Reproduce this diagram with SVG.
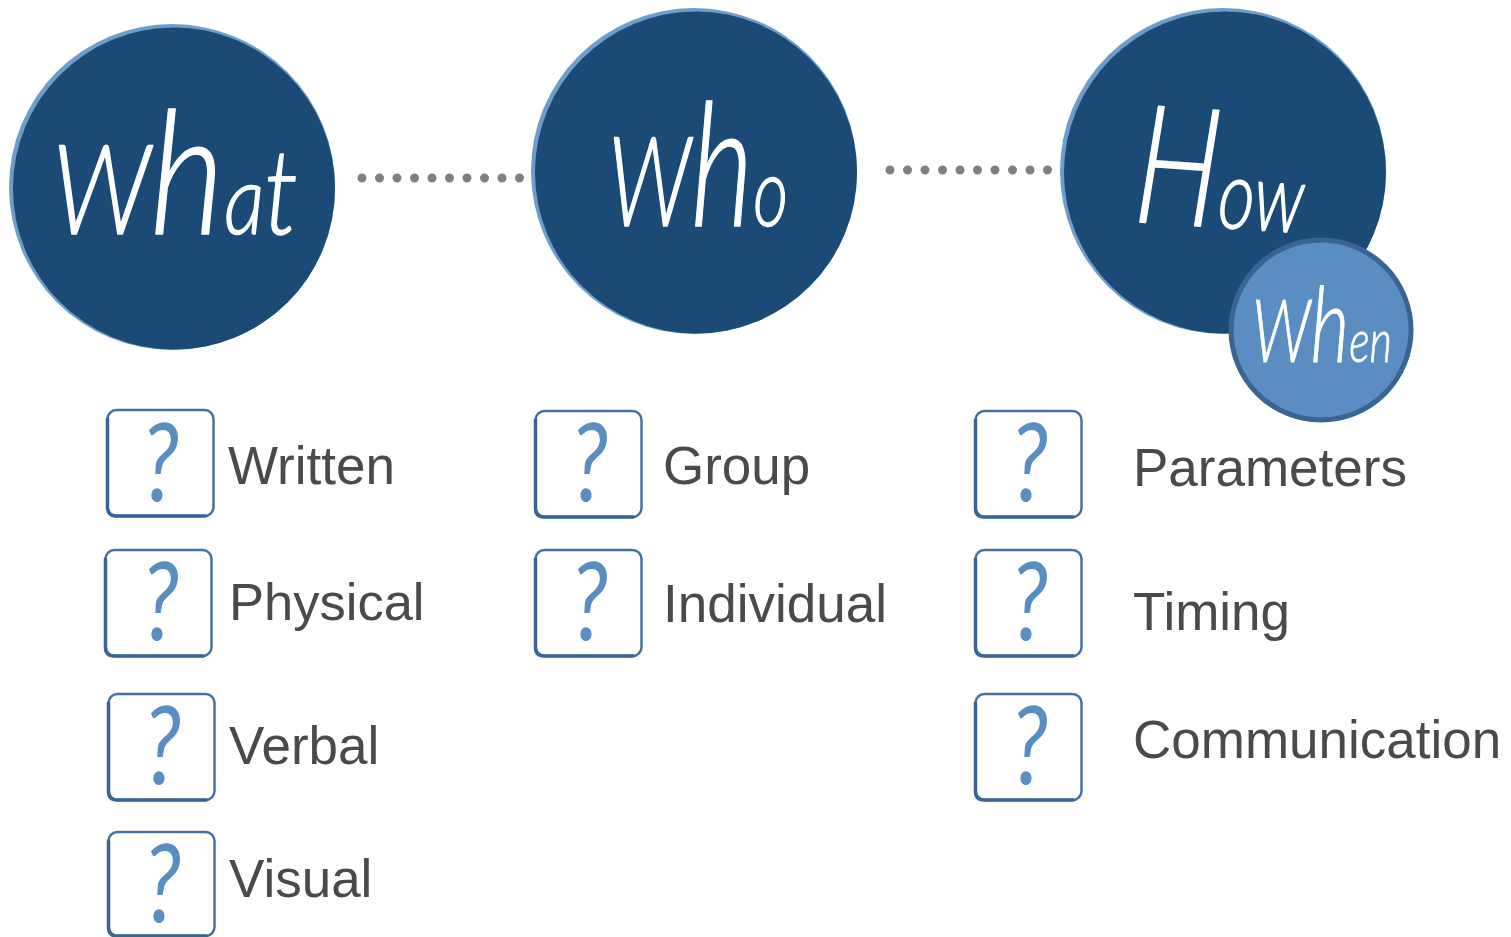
<svg xmlns="http://www.w3.org/2000/svg" width="1511" height="937" viewBox="0 0 1511 937">
<style>
.rim{fill:#6f9dca}
.big{fill:#1c4a76}
.hand{font-family:"Lato","Open Sans",sans-serif;font-weight:300;font-style:italic;fill:#fff;stroke:#fff;stroke-width:1.4;stroke-linejoin:round}
.box{fill:#fff;stroke:#44719f;stroke-width:2.500}
.brush{fill:none;stroke:#3a6592;stroke-width:3.500;stroke-linecap:round}
.q{font-family:"Lato","Liberation Sans",sans-serif;font-style:italic;font-weight:400;font-size:108px;fill:#5a8dc1}
.lbl{font-family:"Liberation Sans",Arial,sans-serif;font-size:53px;fill:#4a4a4a}
.dots{fill:none;stroke:#808080;stroke-width:9;stroke-linecap:round;stroke-dasharray:0 17.5}
</style>
<rect width="1511" height="937" fill="#fff"/>
<g id="connectors">
<line class="dots" x1="362" y1="178" x2="520" y2="178"/>
<line class="dots" x1="890" y1="170" x2="1048" y2="170"/>
</g>
<g id="node-what">
<circle class="rim" cx="172" cy="187" r="163"/>
<circle class="big" cx="174" cy="188.500" r="161"/>
<text class="hand" x="52" y="234" textLength="246" lengthAdjust="spacingAndGlyphs"><tspan font-size="125">W</tspan><tspan font-size="172">h</tspan><tspan font-size="96">a</tspan><tspan font-size="118">t</tspan></text>
</g>
<g id="node-who">
<circle class="rim" cx="694" cy="171" r="163"/>
<circle class="big" cx="696" cy="172.500" r="161"/>
<text class="hand" x="608" y="226" textLength="180" lengthAdjust="spacingAndGlyphs"><tspan font-size="125">W</tspan><tspan font-size="172">h</tspan><tspan font-size="96">o</tspan></text>
</g>
<g id="node-how">
<circle class="rim" cx="1223" cy="171" r="163"/>
<circle class="big" cx="1225" cy="172.500" r="161"/>
<text class="hand" transform="rotate(4 1140 224)" x="1132" y="222" textLength="170" lengthAdjust="spacingAndGlyphs"><tspan font-size="165">H</tspan><tspan font-size="96">o</tspan><tspan font-size="96">w</tspan></text>
</g>
<g id="node-when">
<circle cx="1321" cy="330" r="90" fill="#5a8dc1" stroke="#3a6592" stroke-width="5"/>
<text class="hand" style="stroke-width:.8" x="1252" y="362" textLength="140" lengthAdjust="spacingAndGlyphs"><tspan font-size="86">W</tspan><tspan font-size="104">h</tspan><tspan font-size="60">e</tspan><tspan font-size="60">n</tspan></text>
</g>
<g id="item-written"><rect class="box" x="107.500" y="410" width="106" height="106" rx="9"/><path class="brush" d="M107.500 419V507Q107.500 516 116 516H205"/><text class="q" transform="translate(142 501) scale(.82 1)">?</text><text class="lbl" x="228" y="484">Written</text></g>
<g id="item-physical"><rect class="box" x="105.500" y="550" width="106" height="106" rx="9"/><path class="brush" d="M105.500 559V647Q105.500 656 114 656H203"/><text class="q" transform="translate(142 640) scale(.82 1)">?</text><text class="lbl" x="229" y="620" style="font-size:52.500px">Physical</text></g>
<g id="item-verbal"><rect class="box" x="108.500" y="694" width="106" height="106" rx="9"/><path class="brush" d="M108.500 703V791Q108.500 800 117 800H206"/><text class="q" transform="translate(144 784) scale(.82 1)">?</text><text class="lbl" x="229" y="764">Verbal</text></g>
<g id="item-visual"><rect class="box" x="108.500" y="832" width="106" height="104" rx="9"/><path class="brush" d="M108.500 841V927Q108.500 936 117 936H206"/><text class="q" transform="translate(144 922) scale(.82 1)">?</text><text class="lbl" x="229" y="897">Visual</text></g>
<g id="item-group"><rect class="box" x="535.500" y="411" width="106" height="106" rx="9"/><path class="brush" d="M535.500 420V508Q535.500 517 544 517H633"/><text class="q" transform="translate(571 501) scale(.82 1)">?</text><text class="lbl" x="663" y="484">Group</text></g>
<g id="item-individual"><rect class="box" x="535.500" y="550" width="106" height="106" rx="9"/><path class="brush" d="M535.500 559V647Q535.500 656 544 656H633"/><text class="q" transform="translate(571 640) scale(.82 1)">?</text><text class="lbl" x="663" y="622">Individual</text></g>
<g id="item-parameters"><rect class="box" x="975.500" y="411" width="106" height="106" rx="9"/><path class="brush" d="M975.500 420V508Q975.500 517 984 517H1073"/><text class="q" transform="translate(1011 501) scale(.82 1)">?</text><text class="lbl" x="1133" y="486">Parameters</text></g>
<g id="item-timing"><rect class="box" x="975.500" y="550" width="106" height="106" rx="9"/><path class="brush" d="M975.500 559V647Q975.500 656 984 656H1073"/><text class="q" transform="translate(1011 640) scale(.82 1)">?</text><text class="lbl" x="1133" y="630">Timing</text></g>
<g id="item-communication"><rect class="box" x="975.500" y="694" width="106" height="106" rx="9"/><path class="brush" d="M975.500 703V791Q975.500 800 984 800H1073"/><text class="q" transform="translate(1011 784) scale(.82 1)">?</text><text class="lbl" x="1133" y="758">Communication</text></g>
</svg>
